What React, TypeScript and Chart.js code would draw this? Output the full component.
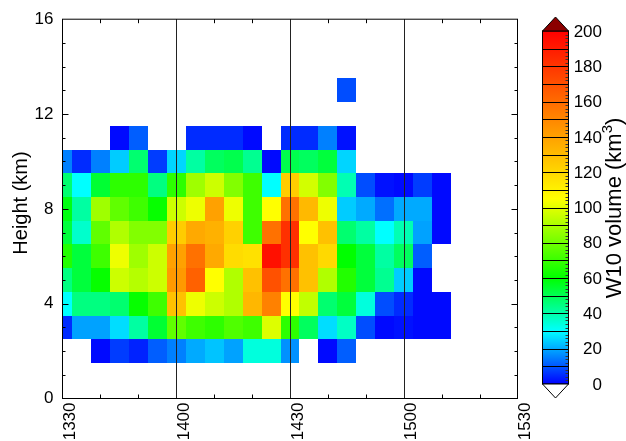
import React, { useEffect, useRef } from 'react';
import { Chart, registerables } from 'chart.js';

Chart.register(...registerables);

// ---- data ----
// time of each column, minutes after 13:30
const TIME_MIN = [0, 5, 10, 15, 20, 25, 30, 35, 40, 45, 50, 55, 60, 65, 70, 75, 80, 85, 90, 95, 100];
const X_TICK_VALUES = [0, 30, 60, 90, 120];
const X_TICK_LABELS = ['1330', '1400', '1430', '1500', '1530'];
const Y_TICK_VALUES = [0, 4, 8, 12, 16];

const HEIGHTS_KM = [2, 3, 4, 5, 6, 7, 8, 9, 10, 11, 13];
const W10_2KM = [null, null, 1, 7, 4, 11, 15, 20, 23, 19, 34, 34, 17, null, 1, 11, null, null, null, null, null];
const W10_3KM = [5, 19, 19, 26, 41, 54, 77, 71, 68, 74, 71, 99, 68, 49, 26, 37, 9, 1, 2, 1, 1];
const W10_4KM = [30, 45, 45, 47, 61, 71, 128, 102, 96, 91, 132, 152, 105, 94, 47, 53, 34, 9, 5, 1, 1];
const W10_5KM = [45, 53, 61, 96, 92, 96, 143, 164, 105, 91, 128, 170, 158, 128, 91, 66, 53, 43, 24, 1, null];
const W10_6KM = [66, 53, 71, 102, 88, 96, 140, 158, 137, 118, 116, 194, 182, 128, 119, 60, 53, 41, 49, 11, null];
const W10_7KM = [53, 36, 77, 91, 83, 83, 124, 137, 134, 122, 71, 158, 182, 105, 128, 47, 41, 30, 39, 19, 1];
const W10_8KM = [58, 41, 88, 77, 71, 61, 96, 102, 140, 102, 71, 105, 158, 131, 102, 24, 20, 13, 20, 20, 1];
const W10_9KM = [47, 30, 54, 68, 68, 45, 68, 88, 96, 83, 71, 30, 124, 97, 83, 39, 9, 2, 1, 7, 1];
const W10_10KM = [15, 5, 15, 24, 47, 7, 25, 41, 49, 51, 43, 1, 51, 49, 53, 25, null, null, null, null, null];
const W10_11KM = [null, null, null, 1, 11, null, null, 5, 5, 5, 1, null, 5, 5, 15, 2, null, null, null, null, null];
const W10_13KM = [null, null, null, null, null, null, null, null, null, null, null, null, null, null, null, 9, null, null, null, null, null];
const W10_ROWS = [W10_2KM, W10_3KM, W10_4KM, W10_5KM, W10_6KM, W10_7KM, W10_8KM, W10_9KM, W10_10KM, W10_11KM, W10_13KM];

const CB_LABELS = [0, 20, 40, 60, 80, 100, 120, 140, 160, 180, 200];

// ---- style ----
const FONT = '"Liberation Sans", Arial, Helvetica, sans-serif';
const CELL_W = 5; // minutes
const CELL_H = 1; // km
const CMAP: [number, [number, number, number]][] = [
  [0, [0, 0, 255]],
  [30, [0, 255, 255]],
  [60, [0, 255, 0]],
  [105, [255, 255, 0]],
  [200, [255, 0, 0]],
];
const CB = { left: 542.5, right: 568.5, top: 31, bottom: 384, tri: 14, min: 0, max: 200 };

function colorFor(v: number): string {
  if (v < CMAP[0][0]) return '#ffffff';
  if (v > CMAP[CMAP.length - 1][0]) return '#8b0000';
  for (let i = 0; i < CMAP.length - 1; i++) {
    const [a, ca] = CMAP[i];
    const [b, cb] = CMAP[i + 1];
    if (v >= a && v <= b) {
      const f = (v - a) / (b - a);
      const c = ca.map((q, k) => Math.round(q + (cb[k] - q) * f));
      return `rgb(${c[0]},${c[1]},${c[2]})`;
    }
  }
  return '#ff0000';
}

function buildCells() {
  const pts: { x: number; y: number; v: number }[] = [];
  HEIGHTS_KM.forEach((h, r) => {
    W10_ROWS[r].forEach((v, c) => {
      if (v !== null && v !== undefined) pts.push({ x: TIME_MIN[c], y: h, v: v as number });
    });
  });
  return pts;
}

function drawRotatedText(
  ctx: CanvasRenderingContext2D,
  parts: { t: string; size: number; dy: number }[],
  baseX: number,
  centerY: number
) {
  ctx.save();
  ctx.translate(baseX, centerY);
  ctx.rotate(-Math.PI / 2);
  let w = 0;
  const widths = parts.map((p) => {
    ctx.font = `${p.size}px ${FONT}`;
    const m = ctx.measureText(p.t).width;
    w += m;
    return m;
  });
  let x = -w / 2;
  ctx.fillStyle = '#000';
  ctx.textAlign = 'left';
  ctx.textBaseline = 'alphabetic';
  parts.forEach((p, i) => {
    ctx.font = `${p.size}px ${FONT}`;
    ctx.fillText(p.t, x, p.dy);
    x += widths[i];
  });
  ctx.restore();
}

const heatmapPlugin = {
  id: 'heatmapCells',
  beforeDatasetsDraw(chart: any) {
    const { ctx, chartArea, scales } = chart;
    const xs = scales.x;
    const ys = scales.y;
    const data = chart.data.datasets[0].data as { x: number; y: number; v: number }[];
    ctx.save();
    ctx.beginPath();
    ctx.rect(chartArea.left, chartArea.top, chartArea.right - chartArea.left, chartArea.bottom - chartArea.top);
    ctx.clip();
    data.forEach((d) => {
      const x0 = Math.round(xs.getPixelForValue(d.x - CELL_W / 2));
      const x1 = Math.round(xs.getPixelForValue(d.x + CELL_W / 2));
      const y0 = Math.round(ys.getPixelForValue(d.y + CELL_H / 2));
      const y1 = Math.round(ys.getPixelForValue(d.y - CELL_H / 2));
      ctx.fillStyle = colorFor(d.v);
      ctx.fillRect(x0, y0, x1 - x0, y1 - y0);
    });
    ctx.restore();
  },
  afterDatasetsDraw(chart: any) {
    const { ctx, chartArea, scales } = chart;
    const xs = scales.x;
    const ys = scales.y;
    const L = chartArea.left, R = chartArea.right, T = chartArea.top, B = chartArea.bottom;
    ctx.save();
    ctx.strokeStyle = '#222';
    ctx.lineWidth = 1;
    X_TICK_VALUES.forEach((v) => {
      const px = Math.round(xs.getPixelForValue(v)) + 0.5;
      if (px <= L + 1 || px >= R - 1) return;
      ctx.beginPath();
      ctx.moveTo(px, T);
      ctx.lineTo(px, B);
      ctx.stroke();
    });
    ctx.strokeStyle = '#000';
    for (let v = 10; v < 120; v += 10) {
      if (v % 30 === 0) continue;
      const px = Math.round(xs.getPixelForValue(v)) + 0.5;
      ctx.beginPath();
      ctx.moveTo(px, B);
      ctx.lineTo(px, B - 4);
      ctx.moveTo(px, T);
      ctx.lineTo(px, T + 4);
      ctx.stroke();
    }
    for (let v = 1; v < 16; v++) {
      const py = Math.round(ys.getPixelForValue(v)) + 0.5;
      const len = v % 4 === 0 ? 6 : 3;
      ctx.beginPath();
      ctx.moveTo(L, py);
      ctx.lineTo(L + len, py);
      ctx.moveTo(R, py);
      ctx.lineTo(R - len, py);
      ctx.stroke();
    }
    ctx.strokeStyle = '#000';
    ctx.strokeRect(L, T, R - L, B - T);
    ctx.restore();
  },
  afterDraw(chart: any) {
    const { ctx } = chart;
    ctx.save();
    const h = CB.bottom - CB.top;
    const grad = ctx.createLinearGradient(0, CB.bottom, 0, CB.top);
    CMAP.forEach(([v]) => {
      grad.addColorStop((v - CB.min) / (CB.max - CB.min), colorFor(v));
    });
    ctx.fillStyle = grad;
    ctx.fillRect(CB.left, CB.top, CB.right - CB.left, h);
    const vy = (v: number) => CB.bottom - ((v - CB.min) / (CB.max - CB.min)) * h;
    ctx.strokeStyle = '#000';
    ctx.lineWidth = 1;
    for (let v = 10; v < 200; v += 10) {
      const py = Math.round(vy(v)) + 0.5;
      ctx.beginPath();
      ctx.moveTo(CB.left, py);
      ctx.lineTo(CB.right, py);
      ctx.stroke();
    }
    ctx.strokeStyle = '#333';
    for (let v = 2; v < 200; v += 2) {
      if (v % 10 === 0) continue;
      const py = Math.round(vy(v)) + 0.5;
      ctx.beginPath();
      ctx.moveTo(CB.right, py);
      ctx.lineTo(CB.right - 3, py);
      ctx.stroke();
    }
    ctx.strokeStyle = '#000';
    ctx.strokeRect(CB.left, CB.top, CB.right - CB.left, h);
    const mid = (CB.left + CB.right) / 2;
    ctx.beginPath();
    ctx.moveTo(CB.left, CB.top);
    ctx.lineTo(mid, CB.top - CB.tri);
    ctx.lineTo(CB.right, CB.top);
    ctx.closePath();
    ctx.fillStyle = '#8b0000';
    ctx.fill();
    ctx.stroke();
    ctx.beginPath();
    ctx.moveTo(CB.left, CB.bottom);
    ctx.lineTo(mid, CB.bottom + CB.tri);
    ctx.lineTo(CB.right, CB.bottom);
    ctx.closePath();
    ctx.fillStyle = '#ffffff';
    ctx.fill();
    ctx.stroke();
    ctx.fillStyle = '#000';
    ctx.font = `17px ${FONT}`;
    ctx.textAlign = 'right';
    ctx.textBaseline = 'middle';
    CB_LABELS.forEach((v) => {
      ctx.fillText(String(v), 602, vy(v) + 1);
    });
    drawRotatedText(
      ctx,
      [
        { t: 'W10 volume (km', size: 22, dy: 0 },
        { t: '3', size: 15, dy: -9 },
        { t: ')', size: 22, dy: 0 },
      ],
      621,
      208
    );
    drawRotatedText(ctx, [{ t: 'Height (km)', size: 20, dy: 0 }], 27, 203);
    ctx.restore();
  },
};

export default function App() {
  const ref = useRef<HTMLCanvasElement | null>(null);
  useEffect(() => {
    if (!ref.current) return;
    const chart = new Chart(ref.current, {
      type: 'scatter',
      data: {
        datasets: [
          {
            data: buildCells(),
            pointRadius: 0,
            hoverRadius: 0,
            showLine: false,
          } as any,
        ],
      },
      options: {
        animation: false,
        responsive: true,
        maintainAspectRatio: false,
        devicePixelRatio: 1,
        events: [],
        layout: { padding: { top: 17.5, right: 108.5, bottom: 0, left: 0 } },
        plugins: { legend: { display: false }, tooltip: { enabled: false }, title: { display: false } },
        scales: {
          x: {
            type: 'linear',
            position: 'bottom',
            min: 0,
            max: 120,
            afterBuildTicks: (s: any) => {
              s.ticks = X_TICK_VALUES.map((v) => ({ value: v }));
            },
            afterFit: (s: any) => {
              s.height = 42.5;
            },
            grid: { display: false, drawTicks: false },
            border: { display: false },
            ticks: {
              autoSkip: false,
              minRotation: 90,
              maxRotation: 90,
              padding: 4,
              labelOffset: 8,
              color: '#000',
              font: { family: FONT, size: 17 },
              callback: (v: any) => {
                const i = X_TICK_VALUES.indexOf(Number(v));
                return i >= 0 ? X_TICK_LABELS[i] : '';
              },
            },
          },
          y: {
            type: 'linear',
            min: 0,
            max: 16,
            afterBuildTicks: (s: any) => {
              s.ticks = Y_TICK_VALUES.map((v) => ({ value: v }));
            },
            afterFit: (s: any) => {
              s.width = 62.5;
            },
            grid: { display: false, drawTicks: false },
            border: { display: false },
            ticks: {
              padding: 9,
              color: '#000',
              font: { family: FONT, size: 17 },
            },
          },
        },
      },
      plugins: [heatmapPlugin],
    });
    return () => chart.destroy();
  }, []);
  return (
    <div style={{ position: 'fixed', left: 0, top: 0, width: 626, height: 441, background: '#fff' }}>
      <canvas ref={ref} />
    </div>
  );
}
